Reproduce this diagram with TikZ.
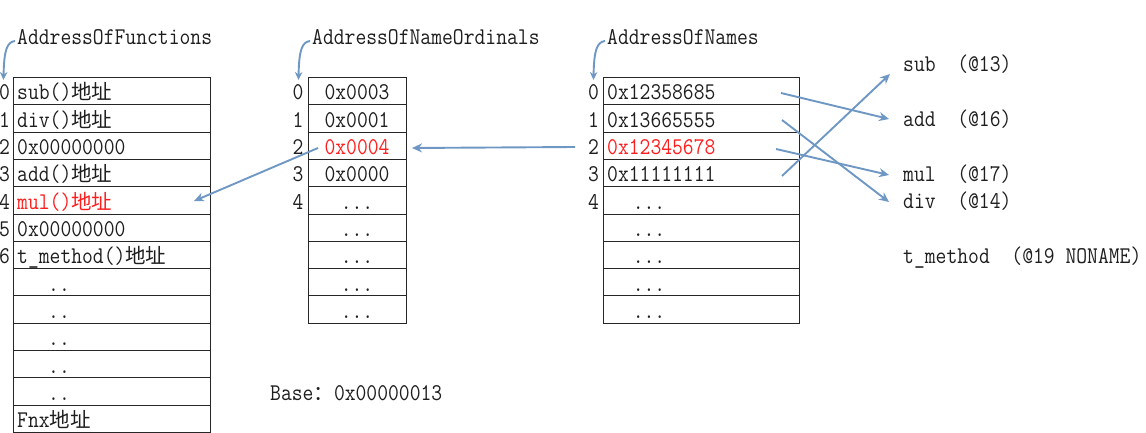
\documentclass[tikz,border=0pt]{standalone}
\usepackage{fontspec}
\usetikzlibrary{arrows.meta}
\newfontfamily\monof[FakeStretch=0.876]{Latin Modern Mono}
\newfontfamily\cjkf{Noto Sans CJK SC}
\newcommand\zhtxt[1]{{\cjkf\fontsize{20.5}{20}\selectfont #1}}
\definecolor{arrowblue}{RGB}{110,151,196}
\definecolor{txtred}{RGB}{255,30,30}
\definecolor{txtdark}{RGB}{30,30,30}
\begin{document}
\begin{tikzpicture}[x=1pt,y=-1pt,
  cell/.style={draw=black!85, line width=0.9pt, minimum width=#1, minimum height=27.3pt, inner sep=0pt, anchor=north west},
  lbl/.style={font=\monof\fontsize{24}{24}\selectfont, text=txtdark, inner sep=0pt, anchor=base west},
  idx/.style={lbl, anchor=base},
  hot/.style={text=txtred},
  conn/.style={draw=arrowblue, line width=1.9pt, -{Stealth[length=10pt,width=9pt]}},
]
\useasboundingbox (0,0) rectangle (1146,433);

% tables
\foreach \i in {0,...,12} \node[cell=197] (f\i) at (12.5,{77+27.3*\i}) {};
\foreach \i in {0,...,8} \node[cell=98.5] (o\i) at (307.7,{77+27.3*\i}) {};
\foreach \i in {0,...,8} \node[cell=196.5] (n\i) at (602.7,{77+27.3*\i}) {};

% titles
\node[lbl] (tf) at (17,45) {AddressOfFunctions};
\node[lbl] (to) at (312,45) {AddressOfNameOrdinals};
\node[lbl] (tn) at (607,45) {AddressOfNames};

% indices
\foreach \i in {0,...,6} \node[idx] (fi\i) at (4.5,{100+27.3*\i}) {\i};
\foreach \i in {0,...,4} \node[idx] (oi\i) at (298,{100+27.3*\i}) {\i};
\foreach \i in {0,...,4} \node[idx] (ni\i) at (593.5,{100+27.3*\i}) {\i};

% AddressOfFunctions contents
\node[lbl] (ft0) at (17,100) {sub()\zhtxt{地址}};
\node[lbl] (ft1) at (17,127.3) {div()\zhtxt{地址}};
\node[lbl] (ft2) at (17,154.6) {0x00000000};
\node[lbl] (ft3) at (17,181.9) {add()\zhtxt{地址}};
\node[lbl,hot] (ft4) at (17,209.2) {mul()\zhtxt{地址}};
\node[lbl] (ft5) at (17,236.5) {0x00000000};
\node[lbl] (ft6) at (17,263.8) {t\_method()\zhtxt{地址}};
\foreach \i in {7,...,11} \node[idx] (ft\i) at (59,{100+27.3*\i}) {..};
\node[lbl] (ft12) at (17,427.6) {Fnx\zhtxt{地址}};

% AddressOfNameOrdinals contents
\node[idx] (ot0) at (357,100) {0x0003};
\node[idx] (ot1) at (357,127.3) {0x0001};
\node[idx,hot] (ot2) at (357,154.6) {0x0004};
\node[idx] (ot3) at (357,181.9) {0x0000};
\foreach \i in {4,...,8} \node[idx] (ot\i) at (357,{100+27.3*\i}) {...};

% AddressOfNames contents
\node[lbl] (nt0) at (607,100) {0x12358685};
\node[lbl] (nt1) at (607,127.3) {0x13665555};
\node[lbl,hot] (nt2) at (607,154.6) {0x12345678};
\node[lbl] (nt3) at (607,181.9) {0x11111111};
\foreach \i in {4,...,8} \node[idx] (nt\i) at (649,{100+27.3*\i}) {...};

% export names
\node[lbl] (esub) at (903,72) {sub\ \ (@13)};
\node[lbl] (eadd) at (903,127) {add\ \ (@16)};
\node[lbl] (emul) at (903,182) {mul\ \ (@17)};
\node[lbl] (ediv) at (903,208.5) {div\ \ (@14)};
\node[lbl] (etm) at (903,263.5) {t\_method\ \ (@19 NONAME)};

% base
\node[lbl] (base) at (270,400) {Base\zhtxt{：}0x00000013};

% title arrows
\coordinate (tfs) at (15,41); \coordinate (tfe) at (3.5,80);
\coordinate (tos) at (310,41); \coordinate (toe) at (298.5,80);
\coordinate (tns) at (605,41); \coordinate (tne) at (593.5,80);
\draw[conn,-{Stealth[length=8pt,width=7.5pt]}] (tfs) .. controls (7,42) and (4,50) .. (tfe);
\draw[conn,-{Stealth[length=8pt,width=7.5pt]}] (tos) .. controls (302,42) and (299,50) .. (toe);
\draw[conn,-{Stealth[length=8pt,width=7.5pt]}] (tns) .. controls (597,42) and (594,50) .. (tne);

% lookup arrows
\coordinate (a1s) at (575,147); \coordinate (a1e) at (412,148);
\coordinate (a2s) at (318,148); \coordinate (a2e) at (194,201);
\draw[conn] (a1s) -- (a1e);
\draw[conn] (a2s) -- (a2e);

\coordinate (r0s) at (781,93);  \coordinate (r0e) at (889,119);
\coordinate (r1s) at (782,120); \coordinate (r1e) at (889,202);
\coordinate (r2s) at (776,149); \coordinate (r2e) at (889,175);
\coordinate (r3s) at (782,176); \coordinate (r3e) at (890,74);
\draw[conn] (r0s) -- (r0e);
\draw[conn] (r1s) -- (r1e);
\draw[conn] (r2s) -- (r2e);
\draw[conn] (r3s) -- (r3e);
\end{tikzpicture}
\end{document}
